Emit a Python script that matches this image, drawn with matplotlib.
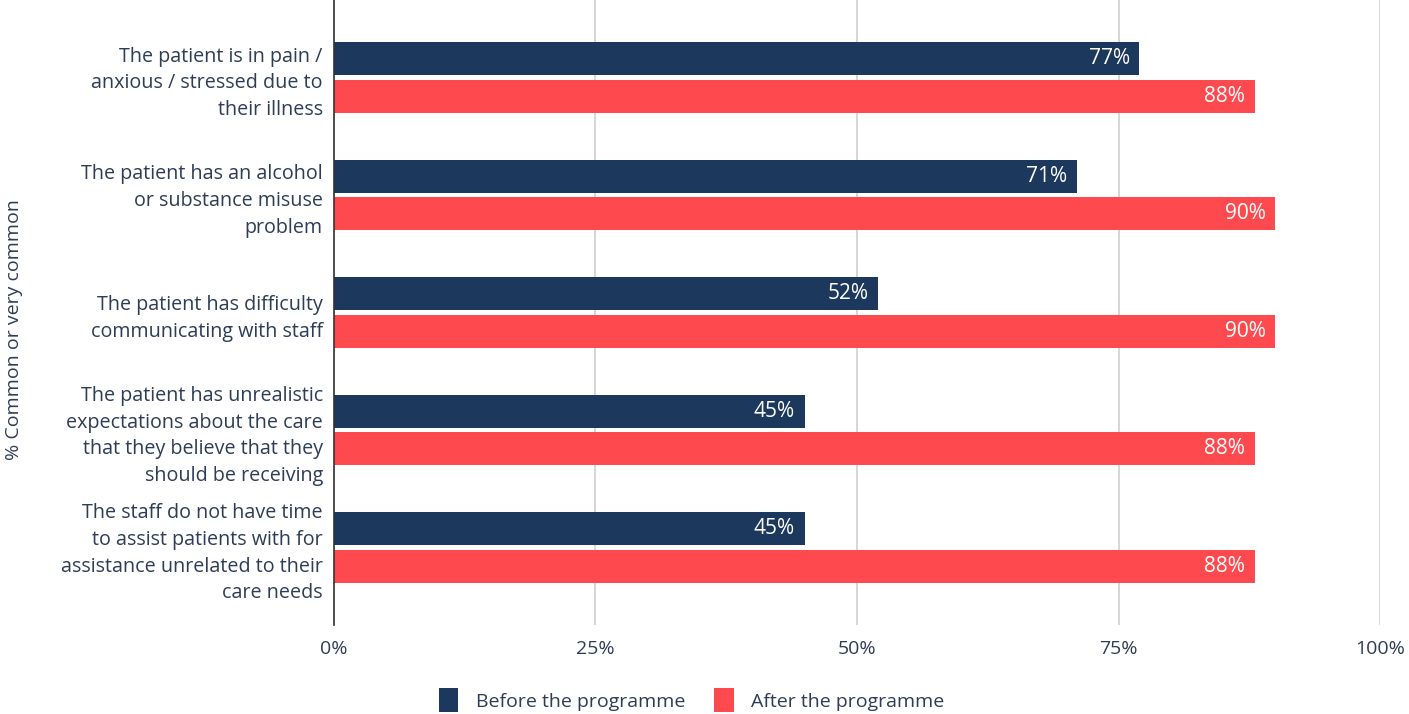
import matplotlib
matplotlib.use("Agg")
import matplotlib.pyplot as plt
import numpy as np
from matplotlib.patches import Patch

plt.rcParams['font.family'] = ['Open Sans', 'DejaVu Sans']

categories = [
    "The patient is in pain /\nanxious / stressed due to\ntheir illness",
    "The patient has an alcohol\nor substance misuse\nproblem",
    "The patient has difficulty\ncommunicating with staff",
    "The patient has unrealistic\nexpectations about the care\nthat they believe that they\nshould be receiving",
    "The staff do not have time\nto assist patients with for\nassistance unrelated to their\ncare needs",
]
before = [77, 71, 52, 45, 45]
after = [88, 90, 90, 88, 88]
series_names = ["Before the programme", "After the programme"]
x_ticks = [0, 25, 50, 75, 100]
x_tick_labels = ["0%", "25%", "50%", "75%", "100%"]
y_label = "% Common or very common"

NAVY = "#1c385c"
RED = "#fe4a4f"
TEXT = "#2e3d55"
GRID = "#d0d0d0"

fig = plt.figure(figsize=(14.09, 7.14), dpi=100)
ax = fig.add_axes([0.237, 0.1246, 0.7425, 0.8754])

y = np.arange(len(categories))
h = 0.28
off = 0.16
b1 = ax.barh(y - off, before, height=h, color=NAVY, zorder=3)
b2 = ax.barh(y + off, after, height=h, color=RED, zorder=3)

for bars, vals in ((b1, before), (b2, after)):
    for bar, v in zip(bars, vals):
        ax.annotate(f"{v}%", xy=(v, bar.get_y() + bar.get_height() / 2),
                    xytext=(-7, 0), textcoords="offset points",
                    ha="right", va="center", color="white", fontsize=15,
                    zorder=4)

ax.set_xlim(0, 100)
ax.set_ylim(len(categories) - 1 + 0.66, -0.66)
ax.set_xticks(x_ticks)
ax.set_xticklabels(x_tick_labels)
ax.set_yticks(y)
ax.set_yticklabels(categories, linespacing=1.45)
ax.tick_params(axis="x", length=0, pad=11, labelsize=14, labelcolor=TEXT)
ax.tick_params(axis="y", length=0, pad=8, labelsize=14.2, labelcolor=TEXT)
ax.grid(axis="x", color=GRID, linewidth=1.2, zorder=0)
for s in ("top", "right", "bottom"):
    ax.spines[s].set_visible(False)
ax.spines["left"].set_color("#333333")
ax.spines["left"].set_linewidth(1.2)
ax.spines["left"].set_zorder(5)

fig.text(0.01, 0.538, y_label, rotation=90, ha="center", va="center",
         fontsize=14, color=TEXT)

handles = [Patch(facecolor=NAVY), Patch(facecolor=RED)]
fig.legend(handles, series_names, loc="lower center", bbox_to_anchor=(0.491, -0.022),
           ncol=2, frameon=False, fontsize=14, labelcolor=TEXT,
           handlelength=1.0, handleheight=1.5, columnspacing=1.5, handletextpad=0.9)

fig.savefig("out.png", dpi=100, facecolor="white")
